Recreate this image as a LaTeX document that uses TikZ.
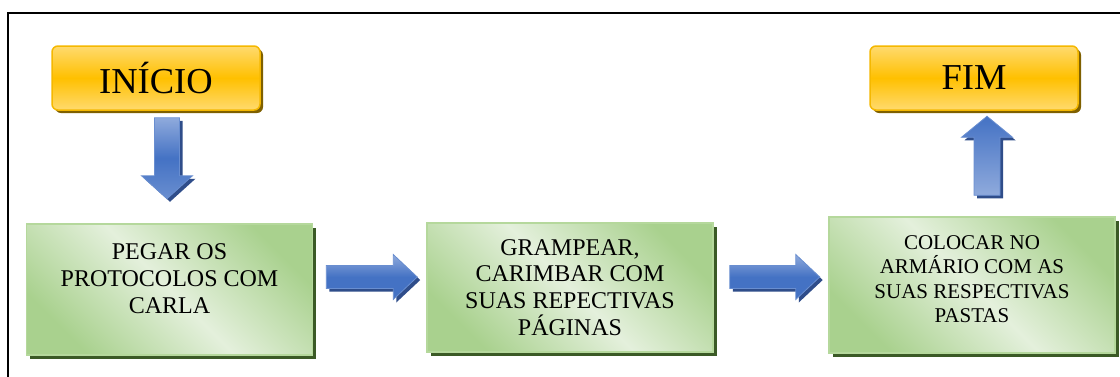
\documentclass[tikz,border=0pt]{standalone}
\usepackage{fontspec}
\setmainfont{Liberation Serif}
\usepackage{xcolor}
\definecolor{flgold}{HTML}{FFC000}
\definecolor{flgoldlt}{HTML}{FFDA6E}
\definecolor{flgoldrim}{HTML}{F5B800}
\definecolor{flgolddk}{HTML}{7F6000}
\definecolor{flgreen}{HTML}{A9D18E}
\definecolor{flgreenlt}{HTML}{E4F0DC}
\definecolor{flgreenrim}{HTML}{B5D89C}
\definecolor{flgreendk}{HTML}{3B5A26}
\definecolor{flblue}{HTML}{4472C4}
\definecolor{flbluelt}{HTML}{8FAADC}
\definecolor{flbluedk}{HTML}{2F4D8A}
\usepackage{tikz}
\usetikzlibrary{calc,shadows}
\tikzset{
  flend/.style  ={rectangle, rounded corners=6pt, draw=flgoldrim, line width=1.5pt,
                  top color=flgoldlt, bottom color=flgoldlt, middle color=flgold,
                  minimum width=208pt, minimum height=64pt, inner sep=0pt,
                  font=\fontsize{36.5}{40}\selectfont, text=black,
                  drop shadow={shadow xshift=3pt, shadow yshift=-3pt, fill=flgolddk, opacity=1}},
  flstep/.style ={rectangle, draw=flgreenrim, line width=1.5pt,
                  top color=flgreen, bottom color=flgreen, middle color=flgreenlt,
                  shading angle=-45,
                  minimum width=286pt, minimum height=131pt, inner sep=0pt,
                  align=center, font=\fontsize{24}{26.7}\selectfont, text=black,
                  drop shadow={shadow xshift=3.5pt, shadow yshift=-3.5pt, fill=flgreendk, opacity=1}},
  flarrow/.style={draw=flblue!80!white, line width=0.8pt},
  flshadow/.style={fill=flbluedk},
  flframe/.style={draw=black, line width=1.5pt},
}
% block arrow: start, angle, length, head length, half shaft, half head, shading
\newcommand{\flblock}[7]{%
  \begin{scope}[shift={#1}, xshift=3pt, yshift=-3pt, rotate=#2]
    \fill[flshadow] (0,-#5) -- ({#3-#4},-#5) -- ({#3-#4},-#6) -- (#3,0)
      -- ({#3-#4},#6) -- ({#3-#4},#5) -- (0,#5) -- cycle;
  \end{scope}
  \begin{scope}[shift={#1}, rotate=#2]
    \draw[flarrow, #7] (0,-#5) -- ({#3-#4},-#5) -- ({#3-#4},-#6) -- (#3,0)
      -- ({#3-#4},#6) -- ({#3-#4},#5) -- (0,#5) -- cycle;
  \end{scope}}

\begin{document}
\begin{tikzpicture}[x=1pt, y=-1pt]
  \useasboundingbox (0,0) rectangle (1120,376);
  \fill[white] (0,0) rectangle (1120,376);
  \draw[flframe] (8,380) -- (8,13) -- (1124,13);
  % start and end
  \node[flend] (ini) at (156,78) {INÍCIO};
  \node[flend] (fim) at (974,78) {FIM};
  % steps
  \node[flstep, text height=69.4pt, text depth=22pt] (pegar) at (169.5,289.5)
       {PEGAR OS\\PROTOCOLOS COM\\CARLA};
  \node[flstep, minimum height=129pt] (grampear) at (570,287.5)
       {GRAMPEAR,\\CARIMBAR COM\\SUAS REPECTIVAS\\PÁGINAS};
  \node[flstep, minimum height=136pt, font=\fontsize{21}{24.5}\selectfont,
        text height=87.5pt, text depth=12pt]
       (colocar) at (972,285)
       {COLOCAR NO\\ARMÁRIO COM AS\\SUAS RESPECTIVAS\\PASTAS};
  % block arrows between them
  \flblock{($(ini.south)+(11,7)$)}{-90}{81}{23}{12.5}{25.5}
          {top color=flbluelt, bottom color=flblue!80!white, middle color=flblue}
  \flblock{($(pegar.east)+(13,-12.5)$)}{0}{91}{24}{11.5}{22.5}
          {top color=flbluelt, bottom color=flblue, middle color=flblue}
  \flblock{($(grampear.east)+(16,-10.5)$)}{0}{90}{24}{11.5}{22.5}
          {top color=flbluelt, bottom color=flblue, middle color=flblue}
  \flblock{($(colocar.north)+(15,-21)$)}{90}{79}{21}{13}{25.5}
          {top color=flblue, bottom color=flbluelt}
\end{tikzpicture}
\end{document}
